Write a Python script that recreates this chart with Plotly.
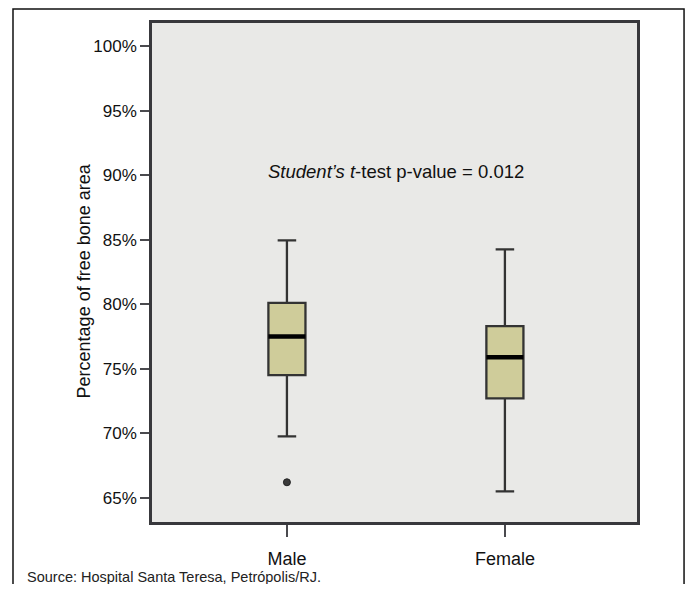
import plotly.graph_objects as go

# Data (percent of free bone area)
groups = ["Male", "Female"]
q1_vals = [74.5, 72.7]
median_vals = [77.5, 75.9]
q3_vals = [80.1, 78.3]
lower_whisker = [69.75, 65.5]
upper_whisker = [84.95, 84.25]
outlier_group = ["Male"]
outlier_vals = [66.2]
tick_vals_y = [65, 70, 75, 80, 85, 90, 95, 100]

BOX_W = 0.17
xpos = list(range(len(groups)))

fig = go.Figure()
fig.add_trace(go.Box(
    x=xpos, q1=q1_vals, median=median_vals, q3=q3_vals,
    lowerfence=lower_whisker, upperfence=upper_whisker,
    width=BOX_W, whiskerwidth=0.5,
    fillcolor="#cfcc9a",
    line=dict(color="#333333", width=2.3),
    boxpoints=False, showlegend=False, hoverinfo="skip",
))
# thick median lines
for i, m in enumerate(median_vals):
    fig.add_trace(go.Scatter(
        x=[xpos[i] - BOX_W / 2, xpos[i] + BOX_W / 2], y=[m, m],
        mode="lines", line=dict(color="#000000", width=4.5),
        showlegend=False, hoverinfo="skip",
    ))
# outliers
fig.add_trace(go.Scatter(
    x=[groups.index(g) for g in outlier_group], y=outlier_vals,
    mode="markers",
    marker=dict(symbol="circle", size=7, color="#3a3a3a",
                line=dict(color="#222222", width=1)),
    showlegend=False, hoverinfo="skip",
))

fig.add_annotation(
    x=0.5, y=90.3, xref="x", yref="y",
    text="<i>Student’s t</i>-test p-value = 0.012",
    showarrow=False, font=dict(size=18.5, color="#111111"),
)
fig.add_annotation(
    x=-0.163, y=0.484, xref="paper", yref="paper",
    text="Percentage of free bone area", textangle=-90,
    showarrow=False, font=dict(size=18, color="#111111"),
)
fig.add_annotation(
    x=-0.262, y=-0.1095, xref="paper", yref="paper",
    xanchor="left", yanchor="middle",
    text="Source: Hospital Santa Teresa, Petrópolis/RJ.",
    showarrow=False,
    font=dict(size=14.5, color="#222222",
              family="Liberation Sans Narrow, Liberation Sans, Arial"),
)
# outer frame (bottom edge falls outside the page, as in the reference)
fig.add_shape(type="rect", xref="paper", yref="paper",
              x0=-0.2866, x1=1.097, y0=-0.16, y1=1.028,
              line=dict(color="#111111", width=1.5), fillcolor="rgba(0,0,0,0)",
              layer="below")

fig.update_layout(
    width=677, height=576,
    margin=dict(l=144, r=48, t=15, b=62),
    paper_bgcolor="white",
    plot_bgcolor="#e9e9e7",
    font=dict(family="Liberation Sans, Arial", color="#111111"),
    xaxis=dict(
        range=[-0.619, 1.606], tickmode="array", tickvals=xpos, ticktext=groups,
        showgrid=False, zeroline=False,
        showline=True, mirror=True, linecolor="#38383c", linewidth=2.5,
        ticks="outside", ticklen=12, tickwidth=2, tickcolor="#4a4a4e",
        tickfont=dict(size=18, color="#111111"), ticklabelstandoff=7,
    ),
    yaxis=dict(
        range=[63.12, 101.80], tickmode="array", tickvals=tick_vals_y,
        ticktext=[f"{v}%" for v in tick_vals_y],
        showgrid=False, zeroline=False,
        showline=True, mirror=True, linecolor="#38383c", linewidth=2.5,
        ticks="outside", ticklen=9, tickwidth=2, tickcolor="#4a4a4e",
        tickfont=dict(size=17, color="#111111"),
    ),
)

fig.write_html("out.html")
